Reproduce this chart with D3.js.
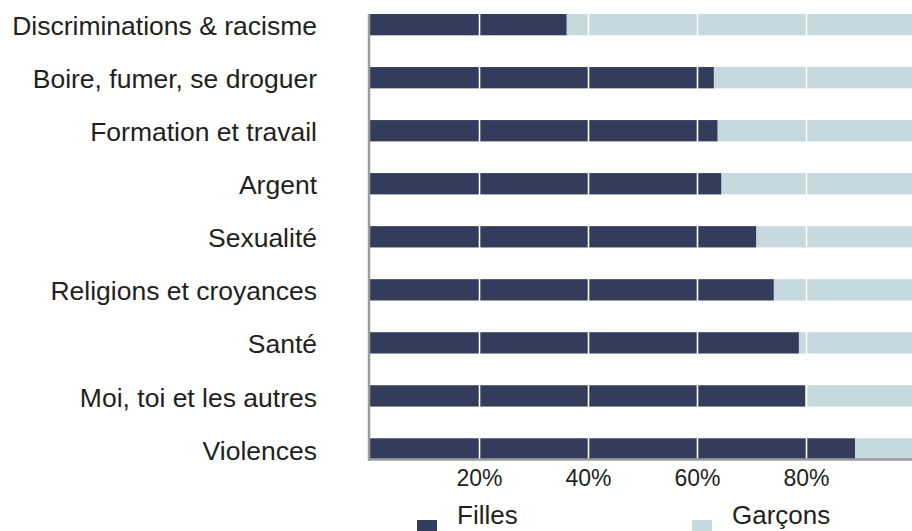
<!DOCTYPE html>
<meta charset="utf-8">
<style>
	body { margin: 0; background: #fff; }
	svg { display: block; font-family: "Helvetica Neue", Helvetica, Arial, "Liberation Sans", sans-serif; }
	.axis .domain { stroke: #9b9b9b; stroke-width: 2.5; }
	.grid .domain { display: none; }
	.grid line { stroke: #fff; stroke-width: 1.6; }
	text { fill: #231f20; }
</style>

<div id="chartBx"></div>

<script src="https://d3js.org/d3.v7.min.js"></script>
<script>

	// data (part des filles / garcons, %)
	var categories = ["Discriminations & racisme", "Boire, fumer, se droguer", "Formation et travail", "Argent",
	                  "Sexualité", "Religions et croyances", "Santé", "Moi, toi et les autres", "Violences"];
	var filles  = [36.1, 63.1, 63.8, 64.5, 70.9, 74.1, 78.7, 79.9, 89.0];
	var garcons = [63.9, 36.9, 36.2, 35.5, 29.1, 25.9, 21.3, 20.1, 11.0];
	var seriesNames = ["Filles", "Garçons"];
	var tickValues = [20, 40, 60, 80];

	makeBarChart("chartBx", 912, 531);

	function makeBarChart(div_id, pWidth, pHeight) {

		var plot = {left: 370, right: 915, top: 14, bottom: 459.6};

		var svg = d3.select("#" + div_id).append("svg")
			.attr("width", pWidth)
			.attr("height", pHeight);

		var colors = d3.scaleOrdinal().domain(seriesNames).range(["#333d5b", "#c5d9de"]);

		// scales
		var x = d3.scaleLinear().domain([0, 100]).range([plot.left, plot.right]);
		var y = d3.scaleBand().domain(categories).range([plot.top, plot.bottom])
			.paddingInner(0.598).paddingOuter(0);

		// stacked data
		var rows = categories.map(function(c, i) {
			var r = {cat: c};
			r[seriesNames[0]] = filles[i];
			r[seriesNames[1]] = garcons[i];
			return r;
		});
		var stacked = d3.stack().keys(seriesNames)(rows);

		// bars
		svg.append("g").attr("class", "bars")
			.selectAll("g")
			.data(stacked)
			.enter().append("g")
				.attr("fill", function(d) { return colors(d.key); })
			.selectAll("rect")
			.data(function(d) { return d; })
			.enter().append("rect")
				.attr("x", function(d) { return x(d[0]); })
				.attr("y", function(d) { return y(d.data.cat); })
				.attr("width", function(d) { return x(d[1]) - x(d[0]); })
				.attr("height", y.bandwidth());

		// white grid lines over bars
		svg.append("g")
			.attr("class", "grid")
			.attr("transform", "translate(0," + plot.bottom + ")")
			.call(d3.axisBottom(x).tickValues(tickValues).tickFormat("").tickSize(-(plot.bottom - plot.top)));

		// x axis
		var xAxis = svg.append("g")
			.attr("class", "axis x")
			.attr("transform", "translate(0," + plot.bottom + ")")
			.call(d3.axisBottom(x).tickValues(tickValues).tickFormat(function(d) { return d + "%"; })
				.tickSize(0).tickSizeOuter(0).tickPadding(10));
		xAxis.select(".domain").attr("d", "M" + (plot.left - 2) + ",0H" + plot.right);
		xAxis.selectAll("text").attr("font-size", 23).attr("fill", "#231f20");

		// y axis (categories)
		var yAxis = svg.append("g")
			.attr("class", "axis y")
			.attr("transform", "translate(" + (plot.left - 1) + ",0)")
			.call(d3.axisLeft(y).tickSize(0).tickSizeOuter(0).tickPadding(52));
		yAxis.select(".domain").attr("d", "M0," + plot.top + "V" + (plot.bottom + 1.5));
		yAxis.selectAll("text")
			.attr("font-size", 26.5)
			.attr("dy", "0.4em")
			.attr("fill", "#231f20");

		// legend (kept just inside the bottom edge)
		var legendX = [417, 692];
		var legend = svg.append("g").attr("class", "legend");
		seriesNames.forEach(function(d, i) {
			legend.append("rect")
				.attr("x", legendX[i])
				.attr("y", 520)
				.attr("width", 20)
				.attr("height", 20)
				.attr("fill", colors(d));
			legend.append("text")
				.attr("x", legendX[i] + 40)
				.attr("y", 524)
				.attr("font-size", 26)
				.text(d);
		});
	}

</script>
